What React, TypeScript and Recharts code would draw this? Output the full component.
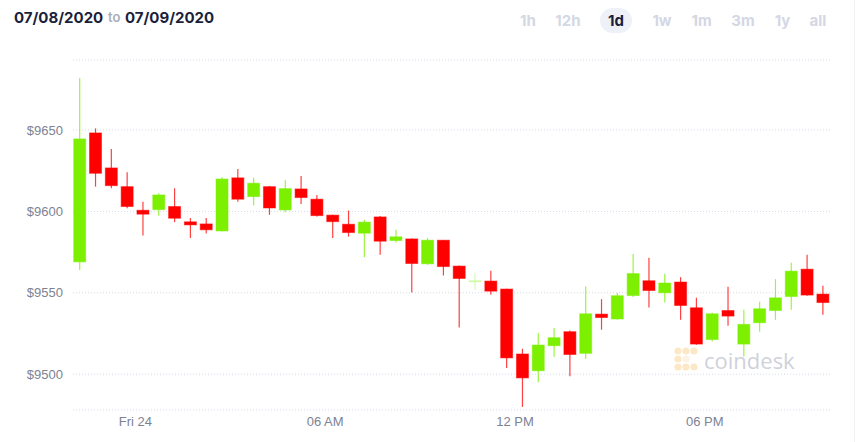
import React from 'react';
import { ComposedChart, Bar, XAxis, YAxis, CartesianGrid } from 'recharts';

// 30-minute candles, 07/08/2020 -> 07/09/2020
const opens = [
  9569, 9648.2, 9626.7, 9615.2, 9600.7, 9601.1, 9603, 9593.6, 9592.3, 9588, 9620.6, 9609.1,
  9615.2, 9600.9, 9613.8, 9607.5, 9597.7, 9592.1, 9586.6, 9596.6, 9582.1, 9583.1, 9567.8, 9582.3,
  9566.4, 9557.2, 9557.2, 9552.3, 9512.4, 9502.1, 9517.5, 9526.1, 9512.8, 9536.9, 9533.9, 9548.3,
  9557.4, 9550, 9556.6, 9540.8, 9521.3, 9539.1, 9518.5, 9531.6, 9539.1, 9547.7, 9564.5, 9549.2,
];
const highs = [
  9682, 9651, 9638.3, 9624, 9606, 9611.2, 9614.2, 9596, 9596, 9621, 9626, 9620.7,
  9615.6, 9619.3, 9621.8, 9610.1, 9597.9, 9600.5, 9594.8, 9597.2, 9588.7, 9583.3, 9583.6, 9582.5,
  9566.7, 9562.3, 9563.5, 9552.5, 9515.6, 9525.3, 9528.3, 9526.9, 9553.9, 9546.1, 9549.8, 9573.9,
  9571.5, 9561.7, 9559.6, 9546.9, 9537.7, 9553.7, 9539.6, 9544.5, 9558.4, 9568.4, 9573.3, 9554.3,
];
const lows = [
  9564, 9615.2, 9614.2, 9602, 9585.2, 9597.4, 9593.4, 9583.6, 9586.4, 9587.6, 9606, 9603.6,
  9597.9, 9599.5, 9604.6, 9596.8, 9583.6, 9584.5, 9571.9, 9573.3, 9580.9, 9550.2, 9567.2, 9560.6,
  9528.7, 9551.8, 9548.8, 9503.8, 9479.9, 9495, 9510.6, 9498.7, 9509.3, 9527.3, 9533.4, 9547.4,
  9541, 9544, 9533.4, 9518.1, 9520.1, 9529.8, 9510.9, 9526.1, 9533.4, 9539.6, 9548.2, 9536.5,
];
const closes = [
  9644.5, 9623.4, 9615.8, 9603, 9598.3, 9610.1, 9595.8, 9591.7, 9588.7, 9619.9, 9607.5, 9617.3,
  9602.1, 9614, 9608.5, 9597.4, 9593.7, 9587, 9593.4, 9581.7, 9584.4, 9568, 9582.3, 9566.1,
  9558.8, 9557.4, 9551, 9510, 9497.7, 9517.9, 9522.4, 9512.1, 9537.1, 9534.8, 9548.2, 9561.8,
  9551.4, 9556, 9542.2, 9518.5, 9537.1, 9535.7, 9530.6, 9540.2, 9546.9, 9563.3, 9548.6, 9544,
];
const fadedCandles = [25];

const timeTicks = [3.5, 15.5, 27.5, 39.5];
const timeLabels = ['Fri 24', '06 AM', '12 PM', '06 PM'];
const priceTicks = [9500, 9550, 9600, 9650];
const ranges = ['1h', '12h', '1d', '1w', '1m', '3m', '1y', 'all'];
const rangeCenters = [528, 568, 616, 662, 701.5, 743, 782.5, 818];

const GREEN = '#7cf000';
const RED = '#ff0000';
const axisFont = '"Liberation Sans", Arial, sans-serif';

const candles = opens.map((open, i) => ({
  t: i,
  open,
  high: highs[i],
  low: lows[i],
  close: closes[i],
  faded: fadedCandles.includes(i),
}));

const Candle = (props: any) => {
  const { x, y, width, height, payload } = props;
  if (payload == null || width == null) return null;
  const { open, close, high, low, faded } = payload;
  const top = Math.min(y, y + height);
  const span = Math.abs(height);
  const ppu = span / (high - low);
  const color = close >= open ? GREEN : RED;
  const bodyTop = top + (high - Math.max(open, close)) * ppu;
  const bodyH = Math.max(Math.abs(open - close) * ppu, 1);
  const cx = x + width / 2;
  return (
    <g opacity={faded ? 0.4 : 1}>
      <line x1={cx} x2={cx} y1={top} y2={top + span} stroke={color} strokeWidth={1.2} strokeOpacity={0.75} />
      <rect
        x={x + 0.5}
        y={bodyTop}
        width={width - 1}
        height={bodyH}
        fill={color}
        stroke={color}
        strokeOpacity={0.5}
        strokeWidth={1}
      />
    </g>
  );
};

export default function App() {
  return (
    <div
      style={{
        position: 'absolute',
        left: 0,
        top: 0,
        width: 858,
        height: 442,
        background: '#fff',
        overflow: 'hidden',
        fontFamily: 'Inter, "Open Sans", sans-serif',
      }}
    >
      <ComposedChart width={858} height={442} data={candles} margin={{ top: 60, right: 26, bottom: 2, left: 0 }}>
        <CartesianGrid vertical={false} stroke="#d5dce8" strokeDasharray="1 2" />
        <XAxis
          type="number"
          dataKey="t"
          domain={[-0.45, 47.55]}
          ticks={timeTicks}
          interval={0}
          tickFormatter={(v: number) => timeLabels[timeTicks.indexOf(v)]}
          axisLine={false}
          tickLine={false}
          tickSize={0}
          tickMargin={7}
          height={30}
          tick={{ fill: '#7d8293', fontSize: 13, fontFamily: axisFont }}
        />
        <YAxis
          domain={[9478, 9693]}
          ticks={priceTicks}
          tickFormatter={(v: number) => `$${v}`}
          axisLine={false}
          tickLine={false}
          tickSize={0}
          tickMargin={10}
          width={73}
          tick={{ fill: '#7d8293', fontSize: 13, fontFamily: axisFont }}
        />
        <Bar
          dataKey={(d: any) => [d.low, d.high]}
          barSize={13}
          shape={Candle}
          isAnimationActive={false}
        />
      </ComposedChart>

      {/* header: date range */}
      <span style={{ position: 'absolute', left: 14, top: 6, lineHeight: '23px', fontSize: 15, fontWeight: 700, color: '#1b1f3b' }}>
        07/08/2020
      </span>
      <span style={{ position: 'absolute', left: 108, top: 6, lineHeight: '23px', fontSize: 13, fontWeight: 600, color: '#a9adba' }}>
        to
      </span>
      <span style={{ position: 'absolute', left: 125, top: 6, lineHeight: '23px', fontSize: 15, fontWeight: 700, color: '#1b1f3b' }}>
        07/09/2020
      </span>

      {/* range selector */}
      <div style={{ position: 'absolute', left: 600, top: 8, width: 32, height: 25, borderRadius: 12.5, background: '#eef1f8' }} />
      {ranges.map((r, i) => (
        <span
          key={r}
          style={{
            position: 'absolute',
            left: rangeCenters[i] - 20,
            width: 40,
            top: 9,
            lineHeight: '24px',
            textAlign: 'center',
            fontSize: 15,
            fontWeight: 700,
            color: r === '1d' ? '#1b1f3b' : '#d4d7e4',
          }}
        >
          {r}
        </span>
      ))}
      <div style={{ position: 'absolute', left: 854, top: 0, width: 1, height: 442, background: '#eef0f4' }} />

      {/* watermark */}
      <svg style={{ position: 'absolute', left: 674, top: 347, overflow: 'visible' }} width={26} height={28}>
        {[
          [4, 4], [12, 4], [20, 4], [4, 12], [4, 20], [12, 20], [20, 20], [12, 12],
        ].map(([cx, cy], i) => (
          <circle key={i} cx={cx} cy={cy} r={3.6} fill="#fde8c6" opacity={i === 7 ? 0.5 : 1} />
        ))}
      </svg>
      <span
        style={{
          position: 'absolute',
          left: 704,
          top: 346,
          lineHeight: '28px',
          fontSize: 22,
          fontFamily: '"Open Sans", sans-serif',
          color: '#cfd2da',
        }}
      >
        coindesk
      </span>
    </div>
  );
}
